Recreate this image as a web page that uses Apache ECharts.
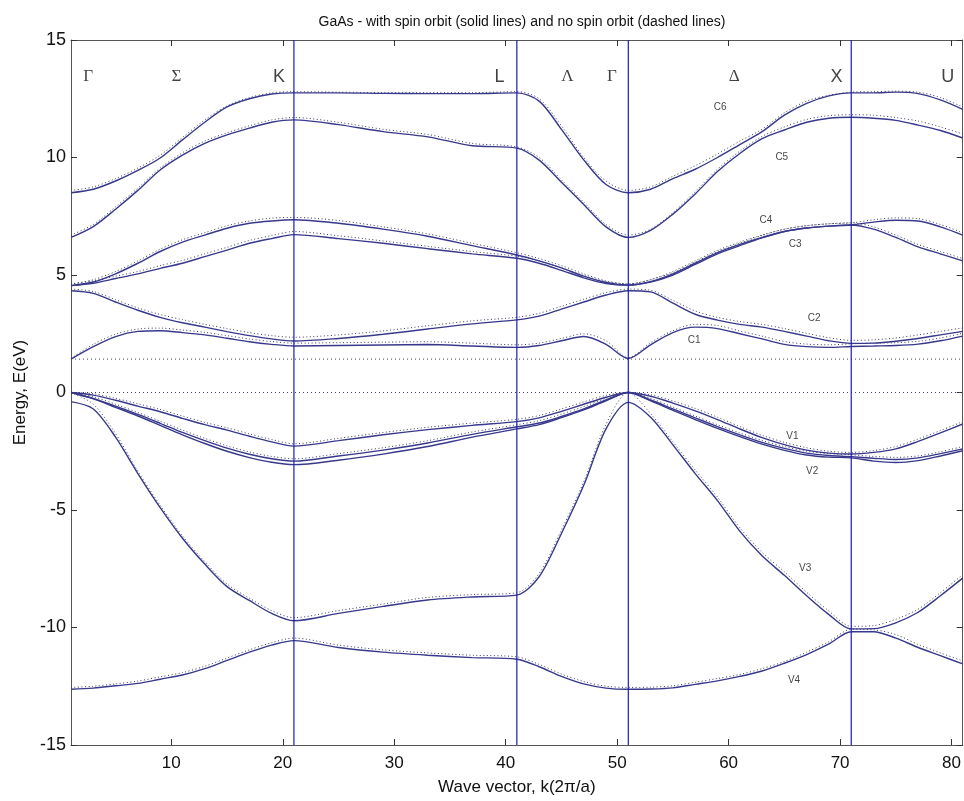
<!DOCTYPE html>
<html>
<head>
<meta charset="utf-8">
<title>GaAs band structure</title>
<script src="https://cdn.jsdelivr.net/npm/echarts@6/dist/echarts.min.js"></script>
<style>
  html, body { margin: 0; padding: 0; background: #fff; }
  #chart { width: 964px; height: 801px; }
</style>
</head>
<body>
<div id="chart"></div>
<script>
// k points (in units of the path index) where energies were read
var kPoints = [1, 3, 5, 7, 9, 11, 13, 15, 17, 19, 21, 25, 29, 33, 37, 41, 43, 45, 47, 49, 51,
               53, 55, 57, 59, 61, 63, 65, 67, 69, 71, 73, 75, 77, 79, 81];

// with spin orbit (solid lines), eV
var C6 = [8.5, 8.65, 9.0, 9.45, 9.98, 10.75, 11.5, 12.15, 12.5, 12.7, 12.75, 12.75, 12.73, 12.72, 12.72, 12.75,
          12.4, 11.2, 9.9, 8.85, 8.5, 8.65, 9.1, 9.5, 10.0, 10.55, 11.1, 11.8, 12.3, 12.62, 12.75, 12.75, 12.78, 12.72, 12.45, 12.05];
var C5 = [6.6, 7.06, 7.8, 8.6, 9.47, 10.1, 10.6, 10.96, 11.25, 11.5, 11.6, 11.4, 11.1, 10.88, 10.5, 10.4,
          9.89, 8.95, 8.0, 7.05, 6.6, 6.9, 7.59, 8.45, 9.4, 10.17, 10.8, 11.17, 11.5, 11.67, 11.71, 11.67, 11.58, 11.38, 11.15, 10.83];
var C4 = [4.55, 4.7, 5.05, 5.5, 6.0, 6.4, 6.7, 6.99, 7.2, 7.3, 7.35, 7.2, 6.95, 6.65, 6.25, 5.85,
          5.6, 5.3, 4.95, 4.68, 4.57, 4.72, 5.05, 5.5, 5.95, 6.3, 6.6, 6.85, 7.0, 7.08, 7.13, 7.25, 7.33, 7.3, 7.05, 6.7];
var C3 = [4.55, 4.65, 4.85, 5.05, 5.28, 5.5, 5.78, 6.06, 6.35, 6.55, 6.72, 6.55, 6.35, 6.12, 5.9, 5.71,
          5.5, 5.2, 4.88, 4.64, 4.57, 4.7, 5.0, 5.45, 5.9, 6.25, 6.58, 6.85, 7.0, 7.08, 7.13, 6.95, 6.6, 6.2, 5.9, 5.6];
var C2 = [4.33, 4.22, 3.85, 3.5, 3.2, 2.97, 2.78, 2.59, 2.42, 2.28, 2.19, 2.3, 2.48, 2.7, 2.92, 3.09,
          3.25, 3.55, 3.85, 4.15, 4.33, 4.28, 3.8, 3.33, 3.08, 2.9, 2.78, 2.6, 2.4, 2.2, 2.09, 2.1, 2.18, 2.3, 2.45, 2.6];
var C1 = [1.42, 1.95, 2.38, 2.6, 2.63, 2.55, 2.45, 2.31, 2.16, 2.05, 1.98, 2.0, 2.02, 2.04, 1.98, 1.92,
          2.0, 2.2, 2.38, 2.05, 1.45, 2.03, 2.55, 2.78, 2.72, 2.5, 2.28, 2.05, 1.95, 1.92, 1.96, 1.98, 2.0, 2.06, 2.2, 2.4];
var V1 = [0, -0.11, -0.33, -0.58, -0.82, -1.1, -1.37, -1.6, -1.86, -2.1, -2.28, -2.05, -1.8, -1.58, -1.4, -1.24,
          -1.08, -0.8, -0.5, -0.2, 0, -0.16, -0.45, -0.78, -1.15, -1.55, -1.92, -2.22, -2.45, -2.58, -2.62, -2.55, -2.4, -2.08, -1.72, -1.34];
var V2 = [0, -0.25, -0.58, -0.93, -1.31, -1.7, -2.05, -2.37, -2.63, -2.82, -2.92, -2.7, -2.45, -2.15, -1.78, -1.46,
          -1.3, -1.02, -0.7, -0.32, 0, -0.32, -0.7, -1.08, -1.45, -1.8, -2.12, -2.38, -2.58, -2.68, -2.73, -2.8, -2.85, -2.78, -2.6, -2.4];
var V2b = [0, -0.27, -0.63, -1.0, -1.4, -1.8, -2.17, -2.5, -2.77, -2.97, -3.07, -2.88, -2.62, -2.3, -1.9, -1.55,
           -1.37, -1.07, -0.74, -0.35, 0, -0.36, -0.76, -1.15, -1.53, -1.88, -2.2, -2.46, -2.66, -2.75, -2.78, -2.92, -2.98, -2.9, -2.7, -2.48];
var V3 = [-0.39, -0.7, -1.9, -3.45, -4.9, -6.2, -7.3, -8.26, -8.85, -9.4, -9.71, -9.4, -9.1, -8.83, -8.7, -8.62,
          -7.84, -6.0, -3.95, -1.55, -0.42, -1.05, -2.23, -3.45, -4.6, -5.9, -6.95, -7.78, -8.65, -9.45, -10.06, -10.05, -9.8, -9.35, -8.65, -7.9];
var V4 = [-12.63, -12.58, -12.48, -12.38, -12.2, -12.02, -11.75, -11.4, -11.05, -10.75, -10.56, -10.85, -11.05, -11.18, -11.28, -11.35,
          -11.67, -12.08, -12.4, -12.58, -12.63, -12.62, -12.57, -12.42, -12.27, -12.08, -11.85, -11.52, -11.15, -10.7, -10.18, -10.18, -10.45, -10.85, -11.2, -11.55];

// no spin orbit (dotted lines), eV
var C6n = [8.6, 8.75, 9.1, 9.55, 10.1, 10.85, 11.6, 12.2, 12.55, 12.75, 12.8, 12.78, 12.76, 12.76, 12.76, 12.8,
           12.5, 11.35, 10.0, 9.0, 8.6, 8.75, 9.2, 9.65, 10.15, 10.7, 11.2, 11.9, 12.4, 12.65, 12.78, 12.8, 12.82, 12.78, 12.55, 12.15];
var C5n = [6.7, 7.15, 7.9, 8.7, 9.55, 10.2, 10.7, 11.05, 11.35, 11.6, 11.7, 11.5, 11.2, 10.98, 10.6, 10.45,
           10.0, 9.05, 8.1, 7.15, 6.7, 6.95, 7.65, 8.55, 9.5, 10.27, 10.9, 11.3, 11.62, 11.78, 11.82, 11.8, 11.7, 11.55, 11.3, 11.0];
var C4n = [4.62, 4.8, 5.15, 5.6, 6.1, 6.5, 6.8, 7.1, 7.3, 7.42, 7.45, 7.32, 7.05, 6.75, 6.35, 5.95,
           5.7, 5.4, 5.05, 4.75, 4.62, 4.8, 5.15, 5.6, 6.05, 6.4, 6.7, 6.95, 7.1, 7.18, 7.22, 7.35, 7.43, 7.4, 7.15, 6.8];
var C3n = [4.62, 4.75, 4.95, 5.15, 5.4, 5.62, 5.9, 6.18, 6.47, 6.68, 6.85, 6.67, 6.45, 6.22, 6.0, 5.8,
           5.6, 5.3, 4.98, 4.72, 4.62, 4.8, 5.1, 5.55, 6.0, 6.35, 6.68, 6.95, 7.1, 7.18, 7.22, 7.05, 6.7, 6.3, 6.0, 5.7];
var C2n = [4.4, 4.3, 3.95, 3.6, 3.32, 3.1, 2.9, 2.72, 2.55, 2.42, 2.35, 2.45, 2.62, 2.84, 3.05, 3.2,
           3.37, 3.67, 3.97, 4.25, 4.4, 4.35, 3.92, 3.47, 3.2, 3.02, 2.9, 2.72, 2.52, 2.33, 2.22, 2.24, 2.32, 2.45, 2.6, 2.75];
var C1n = [1.45, 2.05, 2.48, 2.7, 2.74, 2.66, 2.56, 2.42, 2.28, 2.17, 2.1, 2.12, 2.14, 2.16, 2.1, 2.03,
           2.1, 2.3, 2.5, 2.2, 1.48, 2.12, 2.63, 2.9, 2.85, 2.62, 2.4, 2.17, 2.06, 2.03, 2.07, 2.1, 2.12, 2.18, 2.32, 2.52];
var V1n = [0, -0.05, -0.25, -0.48, -0.72, -1.0, -1.27, -1.5, -1.76, -2.0, -2.18, -1.95, -1.7, -1.48, -1.3, -1.14,
           -0.98, -0.7, -0.4, -0.12, 0, -0.1, -0.36, -0.68, -1.05, -1.45, -1.82, -2.12, -2.35, -2.5, -2.55, -2.47, -2.3, -1.98, -1.62, -1.24];
var V2n = [0, -0.18, -0.5, -0.85, -1.22, -1.6, -1.95, -2.27, -2.53, -2.72, -2.82, -2.6, -2.35, -2.05, -1.68, -1.37,
           -1.2, -0.92, -0.6, -0.25, 0, -0.25, -0.62, -1.0, -1.37, -1.72, -2.04, -2.3, -2.5, -2.6, -2.65, -2.72, -2.76, -2.7, -2.52, -2.3];
var V3n = [0, -0.5, -1.75, -3.35, -4.8, -6.1, -7.2, -8.15, -8.75, -9.28, -9.58, -9.28, -9.0, -8.72, -8.6, -8.52,
           -7.7, -5.85, -3.8, -1.35, 0, -0.9, -2.1, -3.3, -4.45, -5.75, -6.8, -7.63, -8.5, -9.3, -9.95, -9.92, -9.65, -9.22, -8.52, -7.75];
var V4n = [-12.55, -12.5, -12.4, -12.28, -12.1, -11.92, -11.65, -11.3, -10.95, -10.65, -10.45, -10.75, -10.95, -11.08, -11.18, -11.25,
           -11.57, -11.98, -12.3, -12.5, -12.55, -12.54, -12.48, -12.33, -12.17, -12.0, -11.75, -11.45, -11.05, -10.6, -10.08, -10.1, -10.3, -10.72, -11.08, -11.42];

// symmetry points, band labels, reference lines, ticks
var symNames = ['Γ', 'Σ', 'K', 'L', 'Λ', 'Γ', 'Δ', 'X', 'U'];
var symK = [2.55, 10.45, 19.66, 39.44, 45.54, 49.54, 60.5, 69.68, 79.65];
var symE = 13.43;
var bandNames = ['C6', 'C5', 'C4', 'C3', 'C2', 'C1', 'V1', 'V2', 'V3', 'V4'];
var bandLabelK = [59.24, 64.77, 63.34, 65.96, 67.67, 56.91, 65.72, 67.5, 66.86, 65.87];
var bandLabelE = [12.14, 9.99, 7.31, 6.29, 3.18, 2.23, -1.85, -3.37, -7.48, -12.23];
var symLines = [21, 41, 51, 71];
var edgeLines = [0, 1.42];
var xTicks = [10, 20, 30, 40, 50, 60, 70, 80];
var kRange = [1, 81];
var eRange = [-15, 15];

var solidBands = [C6, C5, C4, C3, C2, C1, V1, V2, V2b, V3, V4];
var dottedBands = [C6n, C5n, C4n, C3n, C2n, C1n, V1n, V2n, V3n, V4n];
var serifNames = ['Γ', 'Σ', 'Λ', 'Δ'];

function pairs(ys) {
    return kPoints.map(function(k, i) { return [k, ys[i]]; });
}

var font = '"Liberation Sans", Arial, sans-serif';
var series = [];

// dotted band edges (E = 0 and the gap)
edgeLines.forEach(function(v) {
    series.push({
        type: 'line', data: [[kRange[0], v], [kRange[1], v]], symbol: 'none', silent: true, z: 1,
        lineStyle: { color: '#444466', width: 1, type: [1, 3] }
    });
});

dottedBands.forEach(function(b) {
    series.push({
        type: 'line', data: pairs(b), smooth: 0.3, symbol: 'none', silent: true, z: 2,
        lineStyle: { color: '#3a3a5c', width: 1, type: [1, 2.5] }
    });
});
solidBands.forEach(function(b) {
    series.push({
        type: 'line', data: pairs(b), smooth: 0.3, symbol: 'none', silent: true, z: 3,
        lineStyle: { color: '#38388c', width: 1.4 }
    });
});

// vertical lines at the symmetry points
symLines.forEach(function(v) {
    series.push({
        type: 'line', data: [[v, eRange[0]], [v, eRange[1]]], symbol: 'none', silent: true, z: 4,
        lineStyle: { color: '#1c1cb4', width: 1.2 }
    });
});

// symmetry point labels
series.push({
    type: 'scatter', symbolSize: 0, silent: true, z: 5,
    data: symNames.map(function(n, i) {
        var serif = serifNames.indexOf(n) >= 0;
        return {
            value: [symK[i], symE], name: n,
            label: {
                fontFamily: serif ? '"Liberation Serif", "DejaVu Serif", serif' : font,
                fontSize: serif ? 17 : 18
            }
        };
    }),
    label: { show: true, position: 'inside', color: '#111', formatter: '{b}' }
});

// band labels
series.push({
    type: 'scatter', symbolSize: 0, silent: true, z: 5,
    data: bandNames.map(function(n, i) { return { value: [bandLabelK[i], bandLabelE[i]], name: n }; }),
    label: { show: true, position: 'inside', color: '#111', formatter: '{b}', fontSize: 10, fontFamily: font }
});

var axisColor = '#555';

var chart = echarts.init(document.getElementById('chart'));
chart.setOption({
    animation: false,
    backgroundColor: '#fff',
    title: {
        text: 'GaAs - with spin orbit (solid lines) and no spin orbit (dashed lines)',
        left: 517, top: 10, textAlign: 'center',
        textStyle: { fontSize: 14, fontWeight: 'normal', color: '#111', fontFamily: font }
    },
    grid: { left: 71, right: -1, top: 40, bottom: 56 },
    xAxis: [{
        type: 'value', min: kRange[0], max: kRange[1], position: 'bottom',
        name: 'Wave vector, k(2π/a)', nameLocation: 'middle', nameGap: 34,
        nameTextStyle: { fontSize: 17, color: '#111', fontFamily: font },
        axisLine: { onZero: false, lineStyle: { color: axisColor } },
        axisTick: { inside: true, length: 6, customValues: xTicks, lineStyle: { color: '#333' } },
        axisLabel: { customValues: xTicks, fontSize: 17, color: '#111', margin: 10, fontFamily: font },
        splitLine: { show: false }
    }, {
        type: 'value', min: kRange[0], max: kRange[1], position: 'top',
        axisLine: { onZero: false, lineStyle: { color: axisColor } },
        axisTick: { inside: true, length: 6, customValues: xTicks, lineStyle: { color: '#333' } },
        axisLabel: { show: false },
        splitLine: { show: false }
    }],
    yAxis: [{
        type: 'value', min: eRange[0], max: eRange[1], interval: 5, position: 'left',
        name: 'Energy, E(eV)', nameLocation: 'middle', nameGap: 42,
        nameTextStyle: { fontSize: 17, color: '#111', fontFamily: font },
        axisLine: { show: true, onZero: false, lineStyle: { color: axisColor } },
        axisTick: { show: true, inside: true, length: 6, lineStyle: { color: '#333' } },
        axisLabel: { fontSize: 18, color: '#111', margin: 5, fontFamily: font },
        splitLine: { show: false }
    }, {
        type: 'value', min: eRange[0], max: eRange[1], interval: 5, position: 'right',
        axisLine: { show: true, onZero: false, lineStyle: { color: axisColor } },
        axisTick: { show: true, inside: true, length: 6, lineStyle: { color: '#333' } },
        axisLabel: { show: false },
        splitLine: { show: false }
    }],
    series: series
});
</script>
</body>
</html>
